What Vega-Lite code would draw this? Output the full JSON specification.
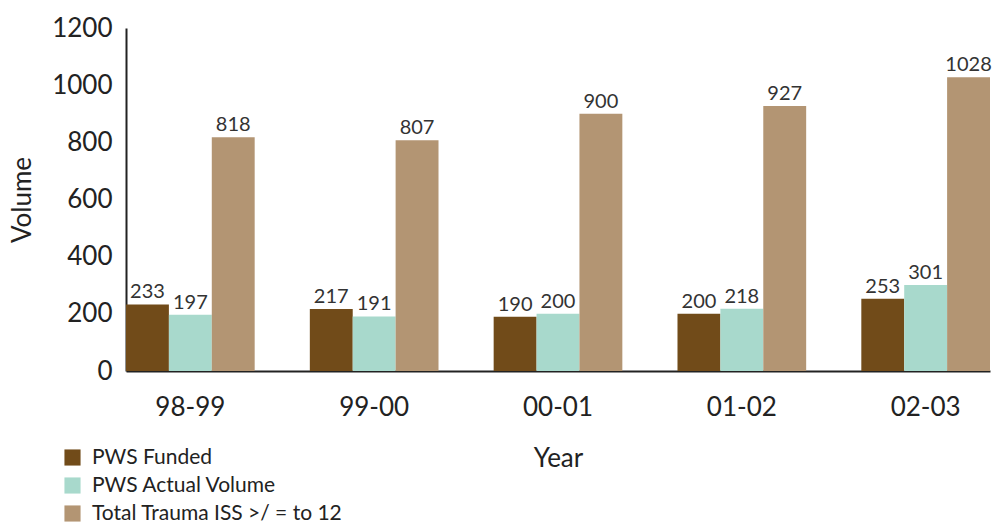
{
  "$schema": "https://vega.github.io/schema/vega-lite/v6.json",
  "width": 864,
  "height": 343,
  "autosize": {"type": "none"},
  "padding": {"left": 126, "top": 28, "right": 2, "bottom": 154},
  "background": "white",
  "config": {
    "font": "Lato",
    "view": {"stroke": null},
    "axis": {"grid": false, "ticks": false, "labelColor": "#222222", "titleColor": "#222222", "titleFontWeight": "normal"}
  },
  "data": {
    "values": [
      {"year": "98-99", "series": "PWS Funded", "volume": 233},
      {"year": "98-99", "series": "PWS Actual Volume", "volume": 197},
      {"year": "98-99", "series": "Total Trauma ISS >/ = to 12", "volume": 818},
      {"year": "99-00", "series": "PWS Funded", "volume": 217},
      {"year": "99-00", "series": "PWS Actual Volume", "volume": 191},
      {"year": "99-00", "series": "Total Trauma ISS >/ = to 12", "volume": 807},
      {"year": "00-01", "series": "PWS Funded", "volume": 190},
      {"year": "00-01", "series": "PWS Actual Volume", "volume": 200},
      {"year": "00-01", "series": "Total Trauma ISS >/ = to 12", "volume": 900},
      {"year": "01-02", "series": "PWS Funded", "volume": 200},
      {"year": "01-02", "series": "PWS Actual Volume", "volume": 218},
      {"year": "01-02", "series": "Total Trauma ISS >/ = to 12", "volume": 927},
      {"year": "02-03", "series": "PWS Funded", "volume": 253},
      {"year": "02-03", "series": "PWS Actual Volume", "volume": 301},
      {"year": "02-03", "series": "Total Trauma ISS >/ = to 12", "volume": 1028}
    ]
  },
  "encoding": {
    "x": {
      "field": "year",
      "type": "nominal",
      "sort": null,
      "scale": {"paddingInner": 0.3, "paddingOuter": 0},
      "axis": {
        "title": "Year",
        "labelAngle": 0,
        "labelFontSize": 26,
        "labelPadding": 23,
        "titleFontSize": 26,
        "titlePadding": 25,
        "domainColor": "#222222",
        "domainWidth": 2
      }
    },
    "xOffset": {
      "field": "series",
      "type": "nominal",
      "sort": ["PWS Funded", "PWS Actual Volume", "Total Trauma ISS >/ = to 12"]
    },
    "y": {
      "field": "volume",
      "type": "quantitative",
      "scale": {"domain": [0, 1200], "nice": false},
      "axis": {
        "title": "Volume",
        "format": "d",
        "values": [0, 200, 400, 600, 800, 1000, 1200],
        "labelFontSize": 26,
        "labelPadding": 14,
        "titleFontSize": 26,
        "titlePadding": 16,
        "domainColor": "#222222",
        "domainWidth": 2
      }
    }
  },
  "layer": [
    {
      "mark": {"type": "bar"},
      "encoding": {
        "color": {
          "field": "series",
          "type": "nominal",
          "sort": ["PWS Funded", "PWS Actual Volume", "Total Trauma ISS >/ = to 12"],
          "scale": {
            "domain": ["PWS Funded", "PWS Actual Volume", "Total Trauma ISS >/ = to 12"],
            "range": ["#714B19", "#A8D9CC", "#B39573"]
          },
          "legend": {
            "title": null,
            "orient": "none",
            "legendX": -64,
            "legendY": 419,
            "symbolType": "square",
            "symbolSize": 260,
            "symbolOpacity": 1,
            "labelFontSize": 21,
            "labelColor": "#222222",
            "labelOffset": 9,
            "labelLimit": 0,
            "rowPadding": 6
          }
        }
      }
    },
    {
      "mark": {"type": "text", "baseline": "bottom", "dy": -2, "fontSize": 20, "color": "#333333"},
      "encoding": {
        "text": {"field": "volume", "type": "quantitative"}
      }
    }
  ]
}
